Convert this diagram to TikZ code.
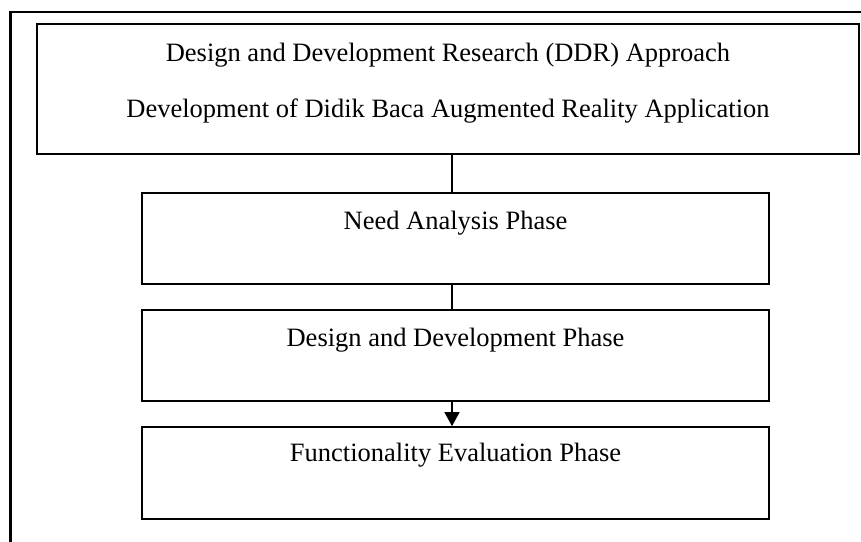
\documentclass[tikz,border=0pt]{standalone}
\usepackage{fontspec}
\setmainfont{Liberation Serif}
\usetikzlibrary{arrows.meta}
\begin{document}
\begin{tikzpicture}[x=1pt,y=-1pt,
  box/.style={draw=black,line width=1.7pt,rectangle,inner sep=0pt,fill=white},
  lbl/.style={anchor=base,inner sep=0pt,font=\fontsize{26.5}{31}\selectfont},
  conn/.style={line width=1.3pt,draw=black}]
\useasboundingbox (0,0) rectangle (861,541);
\clip (0,0) rectangle (861,541);
\fill[white] (0,0) rectangle (861,541);
% outer frame (open at right and bottom, clipped)
\draw[line width=2.6pt] (10.5,560) -- (10.5,12) -- (880,12);
% boxes
\node[box,minimum width=822pt,minimum height=130pt] (top) at (448,89) {};
\node[box,minimum width=627pt,minimum height=91pt] (b1) at (455.5,238.5) {};
\node[box,minimum width=627pt,minimum height=91pt] (b2) at (455.5,355.5) {};
\node[box,minimum width=627pt,minimum height=92pt] (b3) at (455.5,473) {};
% texts
\node[lbl] (t1) at (448,61) {Design and Development Research (DDR) Approach};
\node[lbl] (t2) at (448,117) {Development of Didik Baca Augmented Reality Application};
\node[lbl] (t3) at (455.5,229) {Need Analysis Phase};
\node[lbl] (t4) at (455.5,346) {Design and Development Phase};
\node[lbl] (t5) at (455.5,461) {Functionality Evaluation Phase};
% connectors
\coordinate (cx) at (452,0);
\draw[conn] (top.south -| cx) -- (b1.north -| cx);
\draw[conn] (b1.south -| cx) -- (b2.north -| cx);
\draw[conn,-{Triangle[width=15pt,length=14pt]}] (b2.south -| cx) -- (b3.north -| cx);
\end{tikzpicture}
\end{document}
